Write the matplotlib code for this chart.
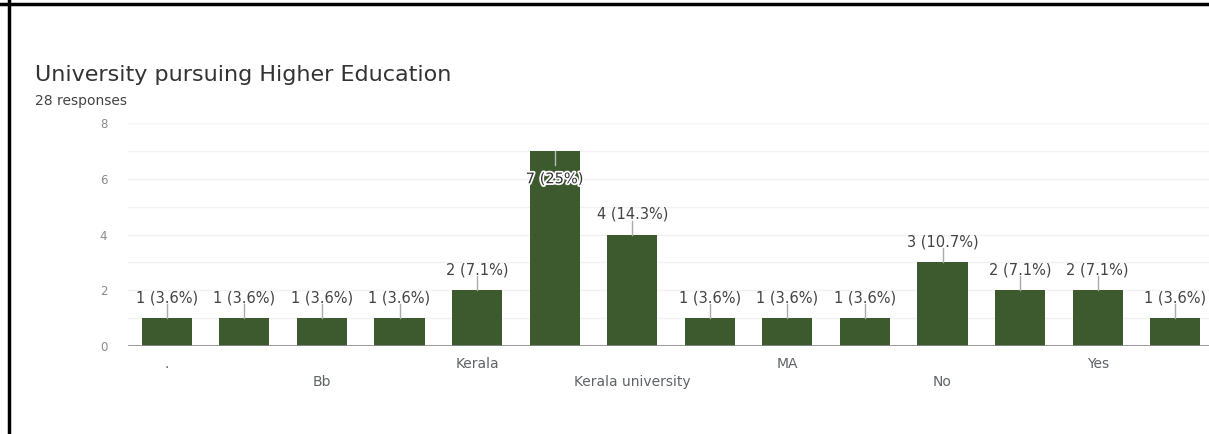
import matplotlib
matplotlib.use("Agg")
import matplotlib.pyplot as plt
import matplotlib.patheffects as pe
from matplotlib.lines import Line2D

# 数据
categories = [".", "-", "Bb", "Calicut", "Kerala", "Kerala University", "Kerala university",
              "Kerala university ", "MA", "MG University", "No", "Nil", "Yes", "yes"]
counts = [1, 1, 1, 1, 2, 7, 4, 1, 1, 1, 3, 2, 2, 1]
total = 28
yticks = [0, 2, 4, 6, 8]

bar_color = "#3c5a2e"
text_gray = "#5f6368"

fig = plt.figure(figsize=(12.09, 4.34), dpi=100)
fig.patch.set_facecolor("white")

ax = fig.add_axes([128 / 1209, 88 / 434, 1086 / 1209, 223 / 434])
x = list(range(len(categories)))
ax.bar(x, counts, width=0.645, color=bar_color, zorder=3)
ax.set_xlim(-0.5, len(categories) - 0.5)
ax.set_ylim(0, 8)

# 网格
for v in range(1, 9):
    ax.axhline(v, color="#f2f2f2", lw=1, zorder=1)
ax.axhline(0, color="#8a8a8a", lw=1.2, zorder=4)

for s in ax.spines.values():
    s.set_visible(False)
ax.set_yticks(yticks)
ax.set_yticklabels([str(t) for t in yticks], color="#8a8a8a", fontsize=8.5)
ax.tick_params(axis="y", length=0, pad=15)
ax.set_xticks([])

# x 轴标签 两行交错, 每隔一个显示
for i, name in enumerate(categories):
    if i % 4 == 0:
        ax.text(i, -0.65, name, ha="center", va="center", fontsize=10, color=text_gray)
    elif i % 4 == 2:
        ax.text(i, -1.3, name, ha="center", va="center", fontsize=10, color=text_gray)

# 数值标签
for i, c in enumerate(counts):
    pct = c / total * 100
    if abs(pct - round(pct)) < 0.05:
        lab = "%d (%d%%)" % (c, round(pct))
    else:
        lab = "%d (%.1f%%)" % (c, pct)
    if c >= 7:
        ax.plot([i, i], [c, c - 0.5], color="#bbbbbb", lw=1, zorder=4)
        ax.text(i, c - 1.0, lab, ha="center", va="center", fontsize=10.5, color="#333333",
                zorder=5, path_effects=[pe.withStroke(linewidth=2.5, foreground="white")])
    else:
        ax.plot([i, i], [c, c + 0.5], color="#aaaaaa", lw=1, zorder=4)
        ax.text(i, c + 0.72, lab, ha="center", va="center", fontsize=10.5, color="#444444", zorder=5)

# 标题
fig.text(35 / 1209, 1 - 75 / 434, "University pursuing Higher Education", fontsize=16,
         color="#333333", va="center", ha="left")
fig.text(35 / 1209, 1 - 101 / 434, "28 responses", fontsize=10, color="#444444",
         va="center", ha="left")

# 截图边框
fig.add_artist(Line2D([0, 1], [1 - 3.5 / 434, 1 - 3.5 / 434], color="black", lw=2.5,
                      transform=fig.transFigure))
fig.add_artist(Line2D([9 / 1209, 9 / 1209], [0, 1], color="black", lw=2.5,
                      transform=fig.transFigure))

fig.savefig("out.png", dpi=100)
